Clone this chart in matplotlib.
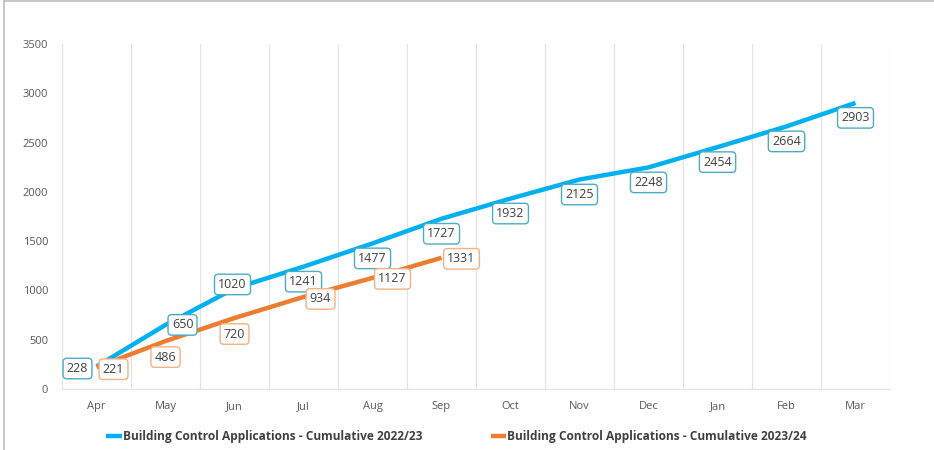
import matplotlib.pyplot as plt
from matplotlib.lines import Line2D

months = ["Apr", "May", "Jun", "Jul", "Aug", "Sep", "Oct", "Nov", "Dec", "Jan", "Feb", "Mar"]
apps_2223 = [228, 650, 1020, 1241, 1477, 1727, 1932, 2125, 2248, 2454, 2664, 2903]
apps_2324 = [221, 486, 720, 934, 1127, 1331]

label_2223 = "Building Control Applications - Cumulative 2022/23"
label_2324 = "Building Control Applications - Cumulative 2023/24"

blue = "#00B0F0"
orange = "#ED7D31"
txt = "#404040"

plt.rcParams['font.family'] = ['Open Sans', 'DejaVu Sans']

fig = plt.figure(figsize=(9.34, 4.5), dpi=100)
ax = fig.add_axes([0.0664, 0.1356, 0.8865, 0.7666])

x1 = list(range(len(apps_2223)))
x2 = list(range(len(apps_2324)))
ax.plot(x1, apps_2223, color=blue, lw=3.2, solid_capstyle='butt', label=label_2223, zorder=3)
ax.plot(x2, apps_2324, color=orange, lw=3.2, solid_capstyle='butt', label=label_2324, zorder=3)

# label offsets in pixels, up is positive (Excel-style placements)
off_blue = [(-19, -2), (17, 0), (-2, 4)] + [(0, -15)] * 9
off_orange = [(17, -2), (0, -16), (0, -16), (17, -2), (20, -1), (20, -1)]

for xs, ys, offs, ec in [(x1, apps_2223, off_blue, "#4BACC6"), (x2, apps_2324, off_orange, "#F4B183")]:
    for xi, yi, (dx, dy) in zip(xs, ys, offs):
        ax.annotate(str(yi), (xi, yi), xytext=(dx, dy), textcoords='offset pixels',
                    ha='center', va='center', fontsize=9, color=txt, zorder=5,
                    bbox=dict(boxstyle='round,pad=0.3,rounding_size=0.3', fc='white', ec=ec, lw=1.0))

ax.set_xlim(-0.5, len(months) - 0.5)
ax.set_ylim(0, 3500)
ax.set_yticks(range(0, 3501, 500))
ax.set_xticks(x1)
ax.set_xticklabels(months)
ax.set_xticks([i - 0.5 for i in range(len(months) + 1)], minor=True)
ax.grid(True, which='minor', axis='x', color='#E4E4E4', lw=0.9)
ax.tick_params(which='both', length=0)
ax.tick_params(axis='y', labelsize=8, colors='#595959', pad=10)
ax.tick_params(axis='x', labelsize=8, colors='#595959', pad=9)
for s in ['top', 'right', 'left']:
    ax.spines[s].set_visible(False)
ax.spines['bottom'].set_color('#E4E4E4')

leg = fig.legend(loc='center', bbox_to_anchor=(0.489, 0.029), ncol=2, frameon=False,
                 handlelength=1.3, handletextpad=0.1, columnspacing=5.7,
                 prop={'size': 8.6, 'weight': 'bold'})
for t in leg.get_texts():
    t.set_color(txt)

# chart frame (cropped)
fig.add_artist(Line2D([0.0048, 0.0048], [0, 1], transform=fig.transFigure, color='#BFBFBF', lw=1.2))
fig.add_artist(Line2D([0.0048, 1], [0.9985, 0.9985], transform=fig.transFigure, color='#BFBFBF', lw=1.2))

fig.savefig("out.png", dpi=100)
